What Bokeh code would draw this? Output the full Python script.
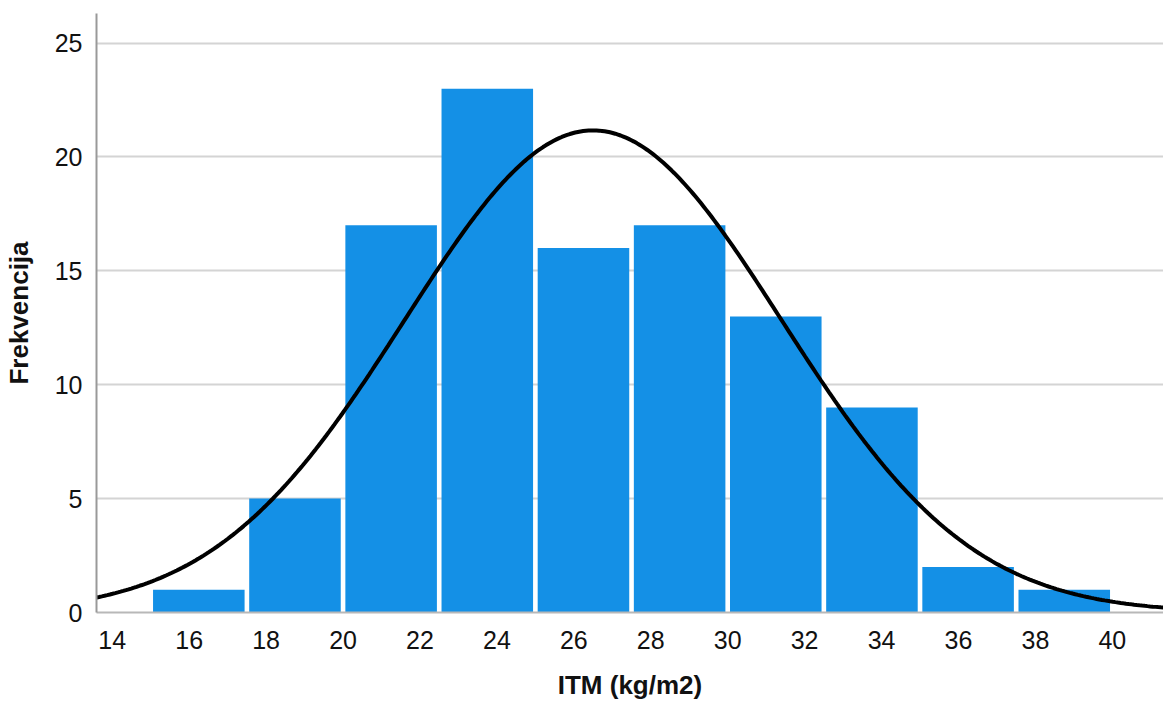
import numpy as np
from bokeh.plotting import figure
from bokeh.models import ColumnDataSource, FixedTicker, Range1d
from bokeh.embed import file_html
from bokeh.resources import INLINE

# Histogram data
bin_start = 15.06
bin_width = 2.5
counts = [1, 5, 17, 23, 16, 17, 13, 9, 2, 1]
x_ticks = [14, 16, 18, 20, 22, 24, 26, 28, 30, 32, 34, 36, 38, 40]
y_ticks = [0, 5, 10, 15, 20, 25]

# Fitted normal curve parameters
mean_val = 26.5
sd_val = 4.9

n = sum(counts)
lefts = [bin_start + i * bin_width for i in range(len(counts))]
gap = 0.12
src = ColumnDataSource(dict(
    left=lefts,
    right=[l + bin_width - gap for l in lefts],
    top=counts,
    bottom=[0] * len(counts),
))

FONT = "Liberation Sans"
X0, X1 = 13.59, 41.33

p = figure(width=1163, height=706, output_backend="svg", toolbar_location=None,
           x_range=Range1d(X0, X1), y_range=Range1d(0, 26.3),
           min_border_left=96, min_border_right=0, min_border_top=13, min_border_bottom=94)
p.outline_line_color = None
p.background_fill_color = "white"
p.border_fill_color = "white"

p.quad(left="left", right="right", top="top", bottom="bottom", source=src,
       fill_color="#1490E6", line_color=None)

xs = np.linspace(X0, X1, 400)
ys = n * bin_width / (sd_val * np.sqrt(2 * np.pi)) * np.exp(-0.5 * ((xs - mean_val) / sd_val) ** 2)
p.line(xs, ys, line_color="black", line_width=4)

p.xgrid.grid_line_color = None
p.ygrid.grid_line_color = "#d4d4d4"
p.ygrid.grid_line_width = 2
p.ygrid.level = "underlay"

p.xaxis.ticker = FixedTicker(ticks=x_ticks)
p.yaxis.ticker = FixedTicker(ticks=y_ticks)
for ax in (p.xaxis[0], p.yaxis[0]):
    ax.major_tick_line_color = None
    ax.minor_tick_line_color = None
    ax.major_label_text_font = FONT
    ax.major_label_text_font_size = "25px"
    ax.major_label_text_color = "#111111"
    ax.axis_label_text_font = FONT
    ax.axis_label_text_font_size = "26px"
    ax.axis_label_text_font_style = "bold"
    ax.axis_label_text_color = "#111111"
    ax.axis_line_width = 2

p.xaxis.axis_line_color = "#b8b8b8"
p.yaxis.axis_line_color = "#999999"
p.xaxis.axis_label = "ITM (kg/m2)"
p.yaxis.axis_label = "Frekvencija"
p.xaxis.major_label_standoff = 12
p.yaxis.major_label_standoff = 8
p.xaxis.axis_label_standoff = 18
p.yaxis.axis_label_standoff = 18

open("out.html", "w").write(file_html(p, INLINE))
